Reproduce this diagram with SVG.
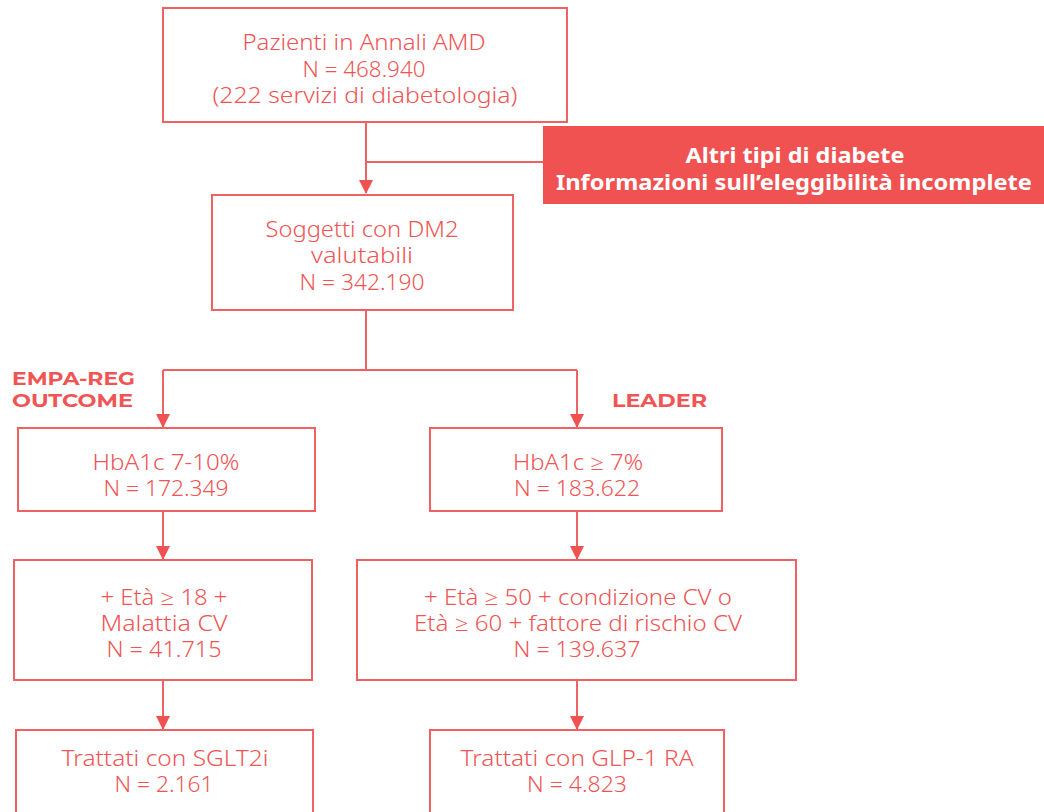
<svg xmlns="http://www.w3.org/2000/svg" width="1044" height="812" viewBox="0 0 1044 812">
<defs>
<style>
.box{fill:#ffffff;stroke:#f06262;stroke-width:2}
.t{font-family:"Source Sans Pro","Noto Sans","Open Sans",sans-serif;font-weight:300;font-size:21px;fill:#f05454;text-anchor:middle}
.w{font-family:"Source Sans Pro","Noto Sans","Open Sans",sans-serif;font-weight:700;font-size:21px;fill:#ffffff;text-anchor:middle}
.lbl{font-family:"Montserrat","Noto Sans","Open Sans",sans-serif;font-weight:700;font-size:18px;fill:#f05454}
.ln{fill:none;stroke:#f06262;stroke-width:2}
</style>
<marker id="ah" markerUnits="userSpaceOnUse" markerWidth="14" markerHeight="16" refX="13" refY="7" orient="auto" viewBox="0 0 14 14">
<path d="M0,0 L14,7 L0,14 Z" fill="#f05252"/>
</marker>
</defs>
<rect width="1044" height="812" fill="#ffffff"/>
<g id="connectors">
<path class="ln" d="M366,122 V193" marker-end="url(#ah)"/>
<path class="ln" d="M366,162 H543"/>
<path class="ln" d="M366,310 V370 M163,370 H577"/>
<path class="ln" d="M163,370 V427" marker-end="url(#ah)"/>
<path class="ln" d="M577,370 V427" marker-end="url(#ah)"/>
<path class="ln" d="M163,511 V559" marker-end="url(#ah)"/>
<path class="ln" d="M577,511 V559" marker-end="url(#ah)"/>
<path class="ln" d="M163,680 V729" marker-end="url(#ah)"/>
<path class="ln" d="M577,680 V729" marker-end="url(#ah)"/>
</g>
<g id="n1">
<rect class="box" x="163" y="8" width="404" height="114"/>
<text class="t" x="364" y="50" textLength="243" lengthAdjust="spacingAndGlyphs">Pazienti in Annali AMD</text>
<text class="t" x="364" y="77" textLength="123" lengthAdjust="spacingAndGlyphs">N = 468.940</text>
<text class="t" x="365" y="103" textLength="305" lengthAdjust="spacingAndGlyphs">(222 servizi di diabetologia)</text>
</g>
<g id="excl">
<rect x="543" y="126" width="501" height="78" fill="#f05252"/>
<text class="w" x="795" y="163" textLength="219" lengthAdjust="spacingAndGlyphs">Altri tipi di diabete</text>
<text class="w" x="794" y="190" textLength="476" lengthAdjust="spacingAndGlyphs">Informazioni sull’eleggibilità incomplete</text>
</g>
<g id="n2">
<rect class="box" x="212" y="195" width="301" height="115"/>
<text class="t" x="362" y="237" textLength="193" lengthAdjust="spacingAndGlyphs">Soggetti con DM2</text>
<text class="t" x="362" y="263" textLength="102" lengthAdjust="spacingAndGlyphs">valutabili</text>
<text class="t" x="362" y="290" textLength="125" lengthAdjust="spacingAndGlyphs">N = 342.190</text>
</g>
<g id="labels">
<text class="lbl" x="12" y="385" textLength="123" lengthAdjust="spacingAndGlyphs">EMPA-REG</text>
<text class="lbl" x="12" y="407" textLength="121" lengthAdjust="spacingAndGlyphs">OUTCOME</text>
<text class="lbl" x="612" y="407" textLength="95" lengthAdjust="spacingAndGlyphs">LEADER</text>
</g>
<g id="n3l">
<rect class="box" x="18" y="428" width="297" height="83"/>
<text class="t" x="166" y="470" textLength="147" lengthAdjust="spacingAndGlyphs">HbA1c 7-10%</text>
<text class="t" x="166" y="496" textLength="125" lengthAdjust="spacingAndGlyphs">N = 172.349</text>
</g>
<g id="n3r">
<rect class="box" x="430" y="428" width="292" height="83"/>
<text class="t" x="578" y="470" textLength="130" lengthAdjust="spacingAndGlyphs">HbA1c ≥ 7%</text>
<text class="t" x="577" y="496" textLength="126" lengthAdjust="spacingAndGlyphs">N = 183.622</text>
</g>
<g id="n4l">
<rect class="box" x="14" y="560" width="298" height="120"/>
<text class="t" x="164" y="605" textLength="127" lengthAdjust="spacingAndGlyphs">+ Età ≥ 18 +</text>
<text class="t" x="164" y="631" textLength="127" lengthAdjust="spacingAndGlyphs">Malattia CV</text>
<text class="t" x="164" y="657" textLength="115" lengthAdjust="spacingAndGlyphs">N = 41.715</text>
</g>
<g id="n4r">
<rect class="box" x="357" y="560" width="439" height="120"/>
<text class="t" x="578" y="605" textLength="308" lengthAdjust="spacingAndGlyphs">+ Età ≥ 50 + condizione CV o</text>
<text class="t" x="578" y="631" textLength="328" lengthAdjust="spacingAndGlyphs">Età ≥ 60 + fattore di rischio CV</text>
<text class="t" x="577" y="657" textLength="127" lengthAdjust="spacingAndGlyphs">N = 139.637</text>
</g>
<g id="n5l">
<rect class="box" x="16" y="730" width="297" height="90"/>
<text class="t" x="165" y="766" textLength="207" lengthAdjust="spacingAndGlyphs">Trattati con SGLT2i</text>
<text class="t" x="164" y="792" textLength="99" lengthAdjust="spacingAndGlyphs">N = 2.161</text>
</g>
<g id="n5r">
<rect class="box" x="430" y="730" width="294" height="90"/>
<text class="t" x="577" y="766" textLength="233" lengthAdjust="spacingAndGlyphs">Trattati con GLP-1 RA</text>
<text class="t" x="577" y="792" textLength="100" lengthAdjust="spacingAndGlyphs">N = 4.823</text>
</g>
</svg>
